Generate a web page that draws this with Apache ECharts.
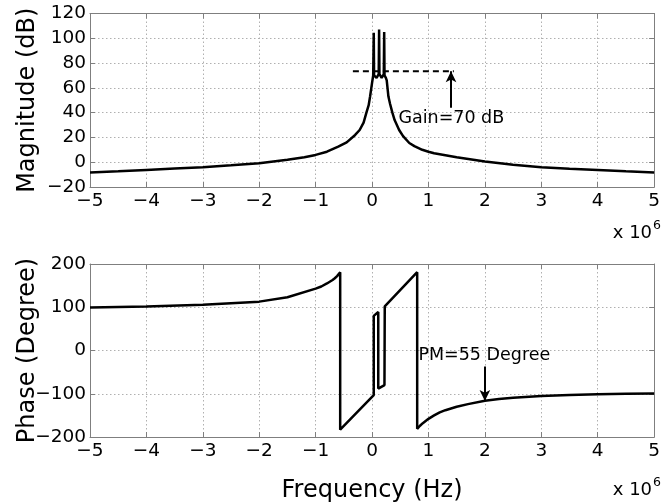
<!DOCTYPE html>
<html>
<head>
<meta charset="utf-8">
<script src="https://cdn.jsdelivr.net/npm/echarts@6/dist/echarts.min.js"></script>
<style>html,body{margin:0;padding:0;background:#fff}#c{width:663px;height:504px}</style>
</head>
<body>
<div id="c"></div>
<script>
// Frequency in units of 1e6 Hz
const magFreq = [-5, -4.5, -4, -3.5, -3, -2.5, -2, -1.5, -1.2, -1, -0.8, -0.6, -0.45, -0.3, -0.22, -0.15, -0.1, -0.06, -0.035, 0, 0.02, 0.03, 0.036, 0.08, 0.118, 0.125, 0.131, 0.17, 0.208, 0.215, 0.221, 0.245, 0.26, 0.29, 0.32, 0.36, 0.4, 0.48, 0.55, 0.66, 0.75, 0.89, 1.0, 1.1, 1.25, 1.5, 2, 2.5, 3, 3.5, 4, 4.5, 5];
const magDb   = [-8.3, -7.3, -6.2, -5.1, -4, -2.5, -0.8, 2, 4, 5.9, 8.5, 12.5, 16, 22, 26, 32, 40, 46, 53, 64, 70, 104.5, 70, 68, 71, 107, 71, 68, 71, 105, 70, 68, 66, 53, 47, 40, 34, 26, 21, 15.5, 13, 10, 8.5, 7.2, 6, 4, 0.5, -2, -4, -5.2, -6.2, -7.3, -8.3];
const phaseFreq = [-5, -4, -3, -2, -1.5, -1, -0.9, -0.8, -0.75, -0.7, -0.66, -0.62, -0.6, -0.565, -0.565, 0.03, 0.03, 0.11, 0.11, 0.22, 0.225, 0.8, 0.8, 0.85, 0.9, 0.95, 1, 1.1, 1.2, 1.3, 1.5, 1.7, 2, 2.25, 2.5, 3, 3.5, 4, 4.5, 5];
const phaseDeg  = [99.5, 101.5, 106, 113, 123, 143, 148, 155, 159, 163, 167, 172, 175, 181, -183, -103, 80, 89, -88, -80, 102, 181, -181, -174, -168, -163, -158, -150, -143, -138, -130, -124, -116, -112, -109, -105, -103, -101, -100, -99.5];
const gainLineFreq = [-0.34, 1.45];
const gainLineDb = [73.5, 73.5];
const gainArrow = [[1.4, 44], [1.4, 73.5]];
const pmArrow = [[2, -37], [2, -117]];
const gainText = {label: 'Gain=70 dB', at: [1.405, 35.5]};
const pmText = {label: 'PM=55 Degree', at: [1.99, -12]};
const magTicks = {min: -20, max: 120, interval: 20};
const phaseTicks = {min: -200, max: 200, interval: 100};
const freqTicks = {min: -5, max: 5, interval: 1};

const FONT = 'DejaVu Sans';
const minus = v => String(v).replace('-', '\u2212');
const zip = (a, b) => a.map((v, i) => [v, b[i]]);
const GRIDC = '#b0b0b0', BOXC = '#7f7f7f';

function xAx(grid, withLabels, name) {
  return {
    type: 'value', gridIndex: grid, min: freqTicks.min, max: freqTicks.max, interval: freqTicks.interval,
    axisLine: {show: true, onZero: false, lineStyle: {color: BOXC, width: 1}},
    axisTick: {show: true, inside: true, length: 5, lineStyle: {color: BOXC}},
    axisLabel: {show: withLabels, color: '#000', fontFamily: FONT, fontSize: 18.5, margin: 5, formatter: minus},
    splitLine: {show: true, lineStyle: {color: GRIDC, type: [1.5, 2.5], width: 1}},
    name: name || '', nameLocation: 'middle', nameGap: 42, nameMoveOverlap: false,
    nameTextStyle: {color: '#000', fontFamily: FONT, fontSize: 24}
  };
}
function xTop(grid) {
  return {
    type: 'value', gridIndex: grid, position: 'top', min: freqTicks.min, max: freqTicks.max, interval: freqTicks.interval,
    axisLine: {show: true, onZero: false, lineStyle: {color: BOXC}},
    axisTick: {show: true, inside: true, length: 5, lineStyle: {color: BOXC}},
    axisLabel: {show: false}, splitLine: {show: false}
  };
}
function yAx(grid, t, name) {
  return {
    type: 'value', gridIndex: grid, min: t.min, max: t.max, interval: t.interval,
    axisLine: {show: true, onZero: false, lineStyle: {color: BOXC}},
    axisTick: {show: true, inside: true, length: 5, lineStyle: {color: BOXC}},
    axisLabel: {color: '#000', fontFamily: FONT, fontSize: 18.5, margin: 4, formatter: minus},
    splitLine: {show: true, lineStyle: {color: GRIDC, type: [1.5, 2.5], width: 1}},
    name: name, nameLocation: 'middle', nameGap: 50, nameMoveOverlap: false,
    nameTextStyle: {color: '#000', fontFamily: FONT, fontSize: 24}
  };
}
function yRight(grid, t) {
  return {
    type: 'value', gridIndex: grid, position: 'right', min: t.min, max: t.max, interval: t.interval,
    axisLine: {show: true, onZero: false, lineStyle: {color: BOXC}},
    axisTick: {show: true, inside: true, length: 5, lineStyle: {color: BOXC}},
    axisLabel: {show: false}, splitLine: {show: false}
  };
}
function textMark(t) {
  return {
    symbol: 'circle', symbolSize: 1, itemStyle: {color: 'rgba(0,0,0,0)'}, silent: true,
    label: {show: true, position: 'inside', color: '#000', fontFamily: FONT, fontSize: 17.5},
    data: [{coord: t.at, value: t.label, label: {formatter: t.label}}]
  };
}
function arrowMark(a) {
  return {
    silent: true, symbol: ['none', 'arrow'], symbolSize: [8, 11], label: {show: false},
    lineStyle: {color: '#000', width: 2, type: 'solid'},
    data: [[{coord: a[0]}, {coord: a[1]}]]
  };
}

const chart = echarts.init(document.getElementById('c'), null, {renderer: 'canvas'});
const sup = {
  a: {fontFamily: FONT, fontSize: 18, fill: '#000', verticalAlign: 'bottom'},
  b: {fontFamily: FONT, fontSize: 12.5, fill: '#000', verticalAlign: 'top', padding: [0, 0, 10, 1]}
};
chart.setOption({
  animation: false,
  backgroundColor: '#fff',
  grid: [
    {left: 90, right: 7.5, top: 13.5, height: 173.5},
    {left: 90, right: 7.5, top: 264, height: 173.3}
  ],
  xAxis: [xAx(0, true), xAx(1, true, 'Frequency (Hz)'), xTop(0), xTop(1)],
  yAxis: [yAx(0, magTicks, 'Magnitude (dB)'), yAx(1, phaseTicks, 'Phase (Degree)'), yRight(0, magTicks), yRight(1, phaseTicks)],
  series: [
    {type: 'line', xAxisIndex: 0, yAxisIndex: 0, data: zip(magFreq, magDb), showSymbol: false,
     lineStyle: {color: '#000', width: 2.5}, z: 5,
     markPoint: textMark(gainText), markLine: arrowMark(gainArrow)},
    {type: 'line', xAxisIndex: 0, yAxisIndex: 0, data: zip(gainLineFreq, gainLineDb), showSymbol: false,
     lineStyle: {color: '#000', width: 2, type: [6, 4]}, z: 4},
    {type: 'line', xAxisIndex: 1, yAxisIndex: 1, data: zip(phaseFreq, phaseDeg), showSymbol: false,
     lineStyle: {color: '#000', width: 2.5}, z: 5,
     markPoint: textMark(pmText), markLine: arrowMark(pmArrow)}
  ],
  graphic: [
    {type: 'text', right: 2, top: 219, style: {text: '{a|x 10}{b|6}', rich: sup}},
    {type: 'text', right: 2, top: 476, style: {text: '{a|x 10}{b|6}', rich: sup}}
  ]
});
</script>
</body>
</html>
